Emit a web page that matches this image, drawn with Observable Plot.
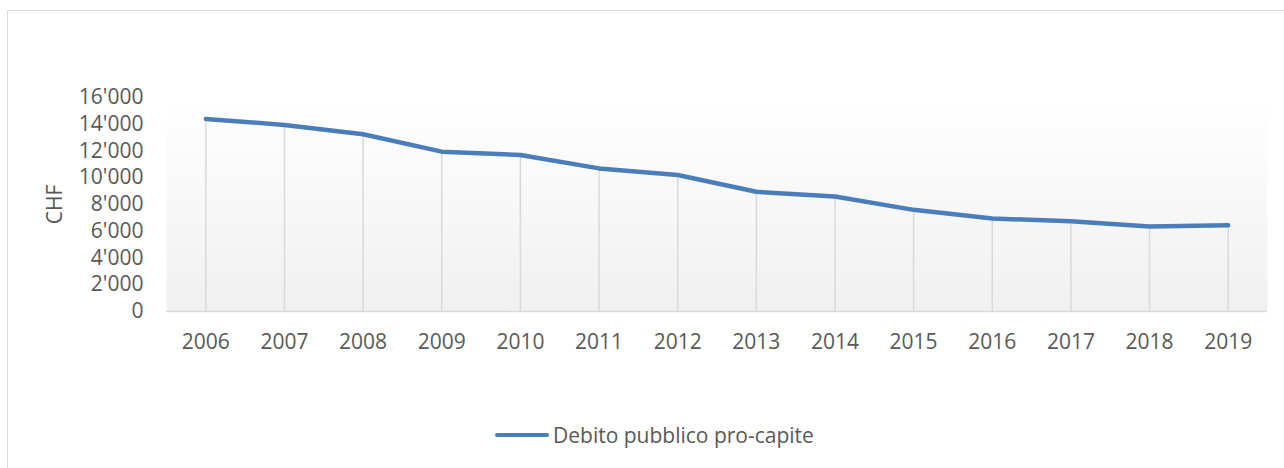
<!DOCTYPE html>
<html>
<head>
<meta charset="utf-8">
<script src="https://cdn.jsdelivr.net/npm/d3@7"></script>
<script src="https://cdn.jsdelivr.net/npm/@observablehq/plot@0.6"></script>
<style>
  html, body { margin: 0; padding: 0; background: #fff; }
  #wrap { position: relative; width: 1284px; height: 468px; overflow: hidden; font-family: "Open Sans", sans-serif; }
  #border { position: absolute; left: 7px; top: 10px; width: 1300px; height: 500px; border: 1.5px solid #d9d9d9; box-sizing: border-box; }
  #chart { position: absolute; left: 0; top: 0; }
  #legend { position: absolute; left: 495px; top: 421px; display: flex; align-items: center; color: #595959; font-size: 21px; }
  #legend .sw { display: inline-block; width: 54px; height: 4px; background: #4a7ebb; border-radius: 2px; margin-right: 4px; }
</style>
</head>
<body>
<div id="wrap">
  <div id="border"></div>
  <div id="chart"></div>
  <div id="legend"><span class="sw"></span><span>Debito pubblico pro-capite</span></div>
</div>
<script>
const years = ["2006","2007","2008","2009","2010","2011","2012","2013","2014","2015","2016","2017","2018","2019"];
const debt = [14400, 13950, 13250, 11950, 11700, 10700, 10200, 8950, 8600, 7600, 6950, 6750, 6350, 6450];
const yTicks = [0, 2000, 4000, 6000, 8000, 10000, 12000, 14000, 16000];

const data = years.map((y, i) => ({year: y, value: debt[i]}));
const locale = d3.formatLocale({decimal: ".", thousands: "'", grouping: [3], currency: ["", ""]});
const fmt = locale.format(",");

const defs = () => {
  const ns = "http://www.w3.org/2000/svg";
  const d = document.createElementNS(ns, "defs");
  d.innerHTML = '<linearGradient id="bg" x1="0" y1="0" x2="0" y2="1"><stop offset="0" stop-color="#ffffff"/><stop offset="1" stop-color="#f0f0f0"/></linearGradient>';
  return d;
};

const chart = Plot.plot({
  width: 1284,
  height: 360,
  marginTop: 97,
  marginBottom: 49,
  marginLeft: 166,
  marginRight: 17,
  style: {fontFamily: "Open Sans", fontSize: "21px", color: "#595959", background: "transparent"},
  x: {type: "point", domain: years, padding: 0.5, round: false, label: null},
  y: {domain: [0, 16000], label: null},
  marks: [
    defs,
    Plot.frame({fill: "url(#bg)", stroke: null}),
    Plot.ruleX(data, {x: "year", y1: 0, y2: "value", stroke: "#d9d9d9", strokeWidth: 1.5}),
    Plot.ruleY([0], {stroke: "#d9d9d9", strokeWidth: 1.5}),
    Plot.line(data, {x: "year", y: "value", stroke: "#4a7ebb", strokeWidth: 4.5, strokeLinejoin: "round", strokeLinecap: "round"}),
    Plot.axisY(yTicks, {tickSize: 0, tickPadding: 23, tickFormat: fmt, fill: "#595959", label: "CHF", labelAnchor: "center", labelOffset: 119, labelArrow: "none"}),
    Plot.axisX({tickSize: 0, tickPadding: 23, fill: "#595959", label: null})
  ]
});
document.getElementById("chart").appendChild(chart);
</script>
</body>
</html>
